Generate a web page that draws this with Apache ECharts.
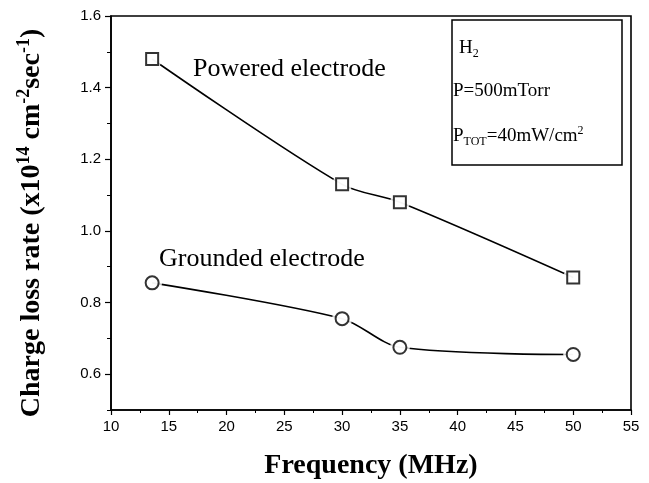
<!DOCTYPE html>
<html>
<head>
<meta charset="utf-8">
<script src="https://cdn.jsdelivr.net/npm/echarts@6/dist/echarts.min.js"></script>
<style>
  html, body { margin: 0; padding: 0; background: #fff; }
  #chart { width: 649px; height: 483px; }
</style>
</head>
<body>
<div id="chart"></div>
<script>
// Frequency (MHz) of each measurement
const frequency = [13.56, 30, 35, 50];
// Charge loss rate (x10^14 cm^-2 sec^-1)
const powered = [1.48, 1.13, 1.08, 0.87];
const grounded = [0.855, 0.755, 0.675, 0.655];
// Axis ticks
const yMajorTicks = [0.6, 0.8, 1.0, 1.2, 1.4, 1.6];
const yMinorTicks = [0.5, 0.7, 0.9, 1.1, 1.3, 1.5];

const serif = 'Liberation Serif, Times New Roman, serif';
const sans = 'Liberation Sans, Arial, sans-serif';

const pairs = (ys) => frequency.map((f, i) => [f, ys[i]]);

const chart = echarts.init(document.getElementById('chart'), null, { renderer: 'canvas' });

function curve(name, ys) {
  return {
    name, type: 'line', data: pairs(ys), smooth: 0.3,
    symbol: 'none', lineStyle: { color: '#000', width: 1.6 }, z: 2, silent: true
  };
}
// white disc under each marker so the curve stops short of it
function halo(ys) {
  return {
    type: 'scatter', data: pairs(ys), symbol: 'circle', symbolSize: 20,
    itemStyle: { color: '#fff' }, z: 3, silent: true
  };
}
function markers(ys, symbol, size) {
  return {
    type: 'scatter', data: pairs(ys), symbol, symbolSize: size,
    itemStyle: { color: '#fff', borderColor: '#000', borderWidth: 2 }, z: 4, silent: true
  };
}

const option = {
  backgroundColor: '#fff',
  animation: false,
  grid: { left: 111, right: 18, top: 16, bottom: 73, outerBoundsMode: 'none', containLabel: false,
          show: true, borderColor: '#000', borderWidth: 1.6, backgroundColor: 'transparent' },
  xAxis: {
    type: 'value', min: 10, max: 55, interval: 5,
    name: 'Frequency (MHz)', nameLocation: 'middle', nameGap: 42,
    nameTextStyle: { fontFamily: serif, fontWeight: 'bold', fontSize: 28, color: '#000' },
    axisLine: { lineStyle: { color: '#000', width: 1.6 } },
    axisTick: { length: 5, lineStyle: { color: '#000', width: 1.2 } },
    minorTick: { show: true, splitNumber: 2, length: 3, lineStyle: { color: '#000', width: 1 } },
    axisLabel: { fontFamily: sans, fontSize: 15, color: '#000', margin: 9 },
    splitLine: { show: false }
  },
  yAxis: [
    {
      type: 'value', min: 0.5, max: 1.6,
      name: '{b|Charge loss rate (x10}{sup|14}{b| cm}{sup|-2}{b|sec}{sup|-1}{b|)}',
      nameLocation: 'middle', nameGap: 62,
      nameTextStyle: {
        padding: [0, 20, 0, 0],
        rich: {
          b: { fontFamily: serif, fontWeight: 'bold', fontSize: 28, color: '#000' },
          sup: { fontFamily: serif, fontWeight: 'bold', fontSize: 18, color: '#000', padding: [0, 0, 16, 0] }
        }
      },
      axisLine: { lineStyle: { color: '#000', width: 1.6 } },
      axisTick: { customValues: yMajorTicks, length: 6, lineStyle: { color: '#000', width: 1.2 } },
      axisLabel: { customValues: yMajorTicks, fontFamily: sans, fontSize: 15, color: '#000', margin: 10,
                   formatter: (v) => v.toFixed(1) },
      splitLine: { show: false }
    },
    {
      type: 'value', min: 0.5, max: 1.6, position: 'left',
      axisLine: { show: false },
      axisTick: { customValues: yMinorTicks, length: 4, lineStyle: { color: '#000', width: 1 } },
      axisLabel: { show: false },
      splitLine: { show: false }
    }
  ],
  series: [
    curve('Powered electrode', powered),
    curve('Grounded electrode', grounded),
    halo(powered), halo(grounded),
    markers(powered, 'rect', 12),
    markers(grounded, 'circle', 13)
  ],
  graphic: [
    { type: 'text', left: 193, top: 56, style: { text: 'Powered electrode', font: '26px ' + serif, fill: '#000' } },
    { type: 'text', left: 159, top: 246, style: { text: 'Grounded electrode', font: '26px ' + serif, fill: '#000' } },
    { type: 'rect', shape: { x: 452, y: 20, width: 170, height: 145 },
      style: { fill: '#fff', stroke: '#000', lineWidth: 1.5 }, z: 10 },
    { type: 'text', left: 459, top: 39, z: 11,
      style: { text: 'H{sub|2}', font: '19px ' + serif, fill: '#000',
               rich: { sub: { fontFamily: serif, fontSize: 12, padding: [11, 0, 0, 0] } } } },
    { type: 'text', left: 453, top: 82, z: 11,
      style: { text: 'P=500mTorr', font: '19px ' + serif, fill: '#000' } },
    { type: 'text', left: 453, top: 125, z: 11,
      style: { text: 'P{sub|TOT}=40mW/cm{sup|2}', font: '19px ' + serif, fill: '#000',
               rich: { sub: { fontFamily: serif, fontSize: 12, padding: [11, 0, 0, 0] },
                       sup: { fontFamily: serif, fontSize: 12, padding: [0, 0, 11, 0] } } } }
  ]
};
chart.setOption(option);
</script>
</body>
</html>
